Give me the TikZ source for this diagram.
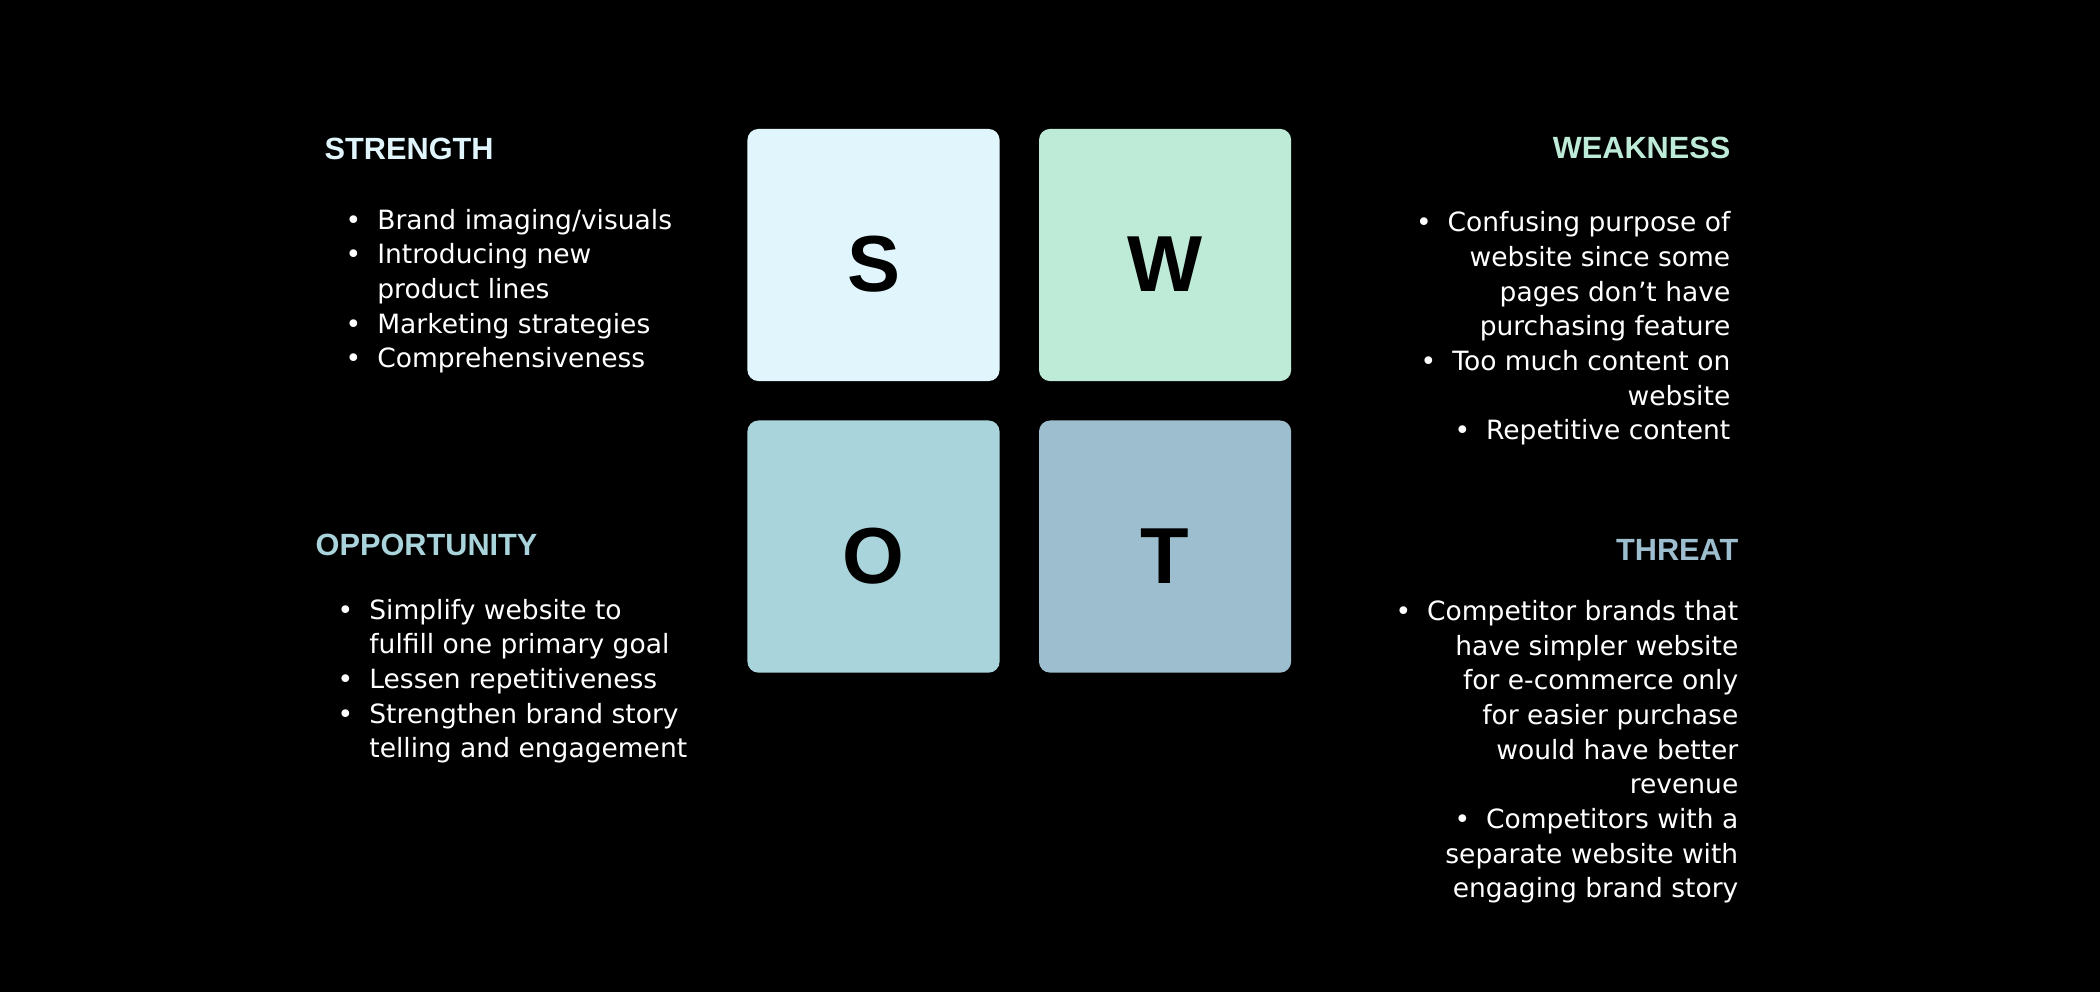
\documentclass[tikz,border=0pt]{standalone}
\usepackage{fontspec}
\setmainfont{DejaVu Sans}
\newfontfamily\headfont{Liberation Sans}
\usetikzlibrary{positioning}

\definecolor{sCol}{HTML}{E1F6FC}
\definecolor{wCol}{HTML}{BEEBD8}
\definecolor{oCol}{HTML}{A9D4DB}
\definecolor{tCol}{HTML}{9DBECE}

\newcommand{\bul}{\makebox[9pt][l]{\textbullet}}
\newcommand{\ind}{\hspace*{9pt}}

\begin{document}
\begin{tikzpicture}[x=0.01cm,y=-0.01cm,
    tile/.style={fill=#1, rounded corners=0.11cm, minimum size=2.52cm, inner sep=0pt,
      text height=0.73cm, text depth=0cm,
      font=\headfont\bfseries\fontsize{22.6}{26}\selectfont, text=black},
    heading/.style={font=\headfont\bfseries\fontsize{8.73}{10}\selectfont, text=#1, inner sep=0pt},
    itemlist/.style={font=\fontsize{7.54}{9.87}\selectfont, text=white, inner sep=0pt}]
  % background
  \fill[black] (0,0) rectangle (2100,992);

  % the four tiles
  \node[tile=sCol] (s) at (873.5,255) {S};
  \node[tile=wCol, right=0.38cm of s] (w) {W};
  \node[tile=oCol, below=0.38cm of s] (o) {O};
  \node[tile=tCol, right=0.38cm of o] (t) {T};

  % strength (list placed by its last baseline)
  \node[heading=sCol, anchor=base west] (sHead) at (324,160) {STRENGTH};
  \node[itemlist, anchor=base west, align=left] (sList) at (345,368)
    {\bul Brand imaging/visuals\\
     \bul Introducing new\\
     \ind product lines\\
     \bul Marketing strategies\\
     \bul Comprehensiveness};

  % weakness
  \node[heading=wCol, anchor=base east] (wHead) at (1731,159) {WEAKNESS};
  \node[itemlist, anchor=base east, align=right] (wList) at (1731,440)
    {\bul Confusing purpose of\\
     website since some\\
     pages don’t have\\
     purchasing feature\\
     \bul Too much content on\\
     website\\
     \bul Repetitive content};

  % opportunity
  \node[heading=oCol, anchor=base west] (oHead) at (315,556) {OPPORTUNITY};
  \node[itemlist, anchor=base west, align=left] (oList) at (337,758)
    {\bul Simplify website to\\
     \ind fulfill one primary goal\\
     \bul Lessen repetitiveness\\
     \bul Strengthen brand story\\
     \ind telling and engagement};

  % threat
  \node[heading=tCol, anchor=base east] (tHead) at (1739,561) {THREAT};
  \node[itemlist, anchor=base east, align=right] (tList) at (1739,898)
    {\bul Competitor brands that\\
     have simpler website\\
     for e-commerce only\\
     for easier purchase\\
     would have better\\
     revenue\\
     \bul Competitors with a\\
     separate website with\\
     engaging brand story};
\end{tikzpicture}
\end{document}
